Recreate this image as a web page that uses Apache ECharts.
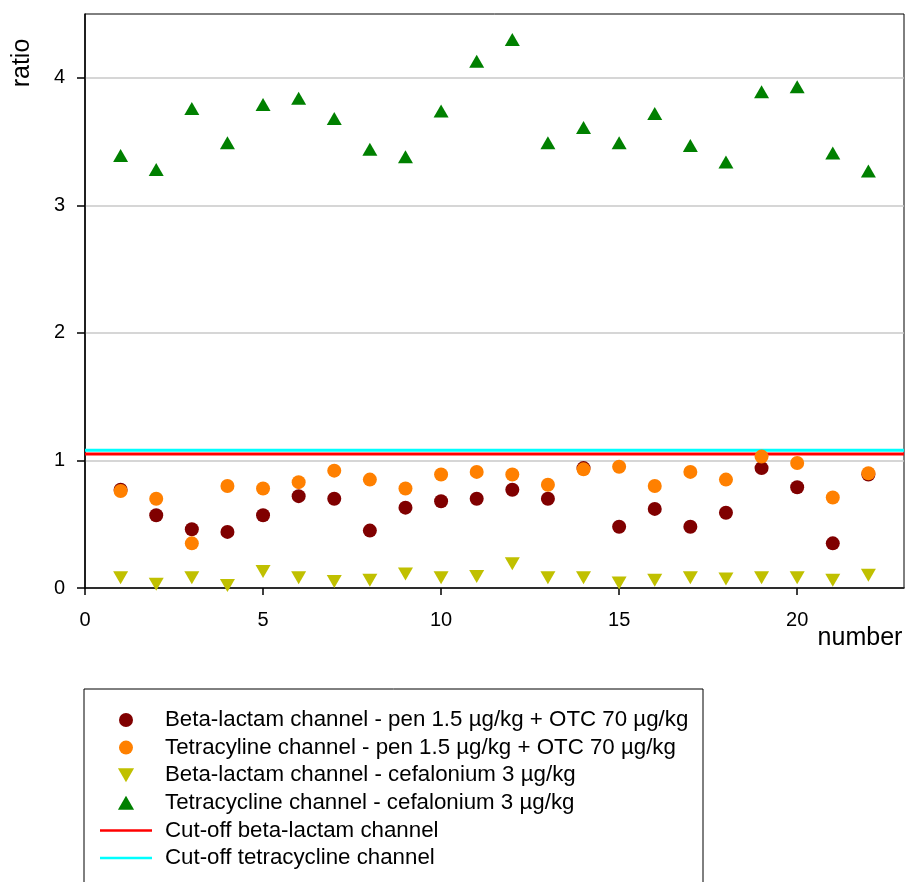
<!DOCTYPE html>
<html>
<head>
<meta charset="utf-8">
<script src="https://cdn.jsdelivr.net/npm/echarts@6/dist/echarts.min.js"></script>
<style>
  html, body { margin: 0; padding: 0; background: #fff; }
  #chart { width: 906px; height: 882px; }
</style>
</head>
<body>
<div id="chart"></div>
<script>
const numbers = [1, 2, 3, 4, 5, 6, 7, 8, 9, 10, 11, 12, 13, 14, 15, 16, 17, 18, 19, 20, 21, 22]
const betaPenOtc = [0.77, 0.57, 0.46, 0.44, 0.57, 0.72, 0.70, 0.45, 0.63, 0.68, 0.70, 0.77, 0.70, 0.94, 0.48, 0.62, 0.48, 0.59, 0.94, 0.79, 0.35, 0.89]
const tetraPenOtc = [0.76, 0.70, 0.35, 0.80, 0.78, 0.83, 0.92, 0.85, 0.78, 0.89, 0.91, 0.89, 0.81, 0.93, 0.95, 0.80, 0.91, 0.85, 1.03, 0.98, 0.71, 0.90]
const betaCefa = [0.08, 0.03, 0.08, 0.02, 0.13, 0.08, 0.05, 0.06, 0.11, 0.08, 0.09, 0.19, 0.08, 0.08, 0.04, 0.06, 0.08, 0.07, 0.08, 0.08, 0.06, 0.10]
const tetraCefa = [3.39, 3.28, 3.76, 3.49, 3.79, 3.84, 3.68, 3.44, 3.38, 3.74, 4.13, 4.30, 3.49, 3.61, 3.49, 3.72, 3.47, 3.34, 3.89, 3.93, 3.41, 3.27]
const cutoffBeta = 1.05
const cutoffTetra = 1.08
const xTicks = [0, 5, 10, 15, 20]
const yTicks = [0, 1, 2, 3, 4]
const xRange = [0, 23]
const yRange = [0, 4.5]

const names = [
    'Beta-lactam channel - pen 1.5 µg/kg + OTC 70 µg/kg',
    'Tetracyline channel - pen 1.5 µg/kg + OTC 70 µg/kg',
    'Beta-lactam channel - cefalonium 3 µg/kg',
    'Tetracycline channel - cefalonium 3 µg/kg',
    'Cut-off beta-lactam channel',
    'Cut-off tetracycline channel',
]

const pairs = (ys) => numbers.map((x, i) => [x, ys[i]])
const font = 'Arial, "Liberation Sans", sans-serif'

// legend icons, kept to their aspect inside the 52x14 legend box
const triDown = 'path://M0 0L15 0L7.5 13Z'
const triUp = 'path://M7.5 0L15 13L0 13Z'
const bar = 'path://M0 0h52v2.5h-52z'

const chart = echarts.init(document.getElementById('chart'))
chart.setOption({
    animation: false,
    backgroundColor: '#fff',
    grid: {
        left: 85,
        right: 2,
        top: 14,
        bottom: 294,
        show: true,
        borderColor: '#000',
        borderWidth: 1,
    },
    graphic: [
        {
            type: 'rect',
            shape: { x: 84, y: 689, width: 619, height: 260 },
            style: { fill: 'none', stroke: '#000', lineWidth: 1 },
            z: -1,
        },
        {
            type: 'text',
            x: 22,
            y: 63,
            rotation: Math.PI / 2,
            style: { text: 'ratio', font: '25px ' + font, fill: '#000', align: 'center', verticalAlign: 'middle' },
        },
        {
            type: 'text',
            x: 860,
            y: 638,
            style: { text: 'number', font: '25px ' + font, fill: '#000', align: 'center', verticalAlign: 'middle' },
        },
    ],
    legend: {
        orient: 'vertical',
        left: 100,
        top: 709,
        padding: 0,
        itemWidth: 52,
        itemHeight: 14,
        itemGap: 5.6,
        symbolKeepAspect: true,
        textStyle: { fontSize: 22.3, fontFamily: font, color: '#000', padding: [0, 0, 0, 8] },
        data: [
            { name: names[0], icon: 'circle' },
            { name: names[1], icon: 'circle' },
            { name: names[2], icon: triDown },
            { name: names[3], icon: triUp },
            { name: names[4], icon: bar },
            { name: names[5], icon: bar },
        ],
    },
    xAxis: {
        type: 'value',
        min: xRange[0],
        max: xRange[1],
        interval: 5,
        axisLine: { show: true, onZero: false, lineStyle: { color: '#000', width: 1.5 } },
        axisTick: { show: true, length: 7, customValues: xTicks, lineStyle: { color: '#000', width: 1.5 } },
        axisLabel: { customValues: xTicks, fontSize: 20, fontFamily: font, color: '#000', margin: 22 },
        splitLine: { show: false },
    },
    yAxis: {
        type: 'value',
        min: yRange[0],
        max: yRange[1],
        interval: 1,
        axisLine: { show: true, lineStyle: { color: '#000', width: 1.5 } },
        axisTick: { show: true, length: 8, customValues: yTicks, lineStyle: { color: '#000', width: 1.5 } },
        axisLabel: { customValues: yTicks, fontSize: 20, fontFamily: font, color: '#000', margin: 20 },
        splitLine: { show: true, lineStyle: { color: '#c8c8c8', width: 1.5 } },
    },
    series: [
        {
            name: names[0],
            type: 'scatter',
            symbol: 'circle',
            symbolSize: 14,
            itemStyle: { color: '#800000', opacity: 1 },
            data: pairs(betaPenOtc),
            z: 3,
        },
        {
            name: names[1],
            type: 'scatter',
            symbol: 'circle',
            symbolSize: 14,
            itemStyle: { color: '#ff8000', opacity: 1 },
            data: pairs(tetraPenOtc),
            z: 4,
        },
        {
            name: names[2],
            type: 'scatter',
            symbol: 'triangle',
            symbolRotate: 180,
            symbolSize: [15, 13],
            itemStyle: { color: '#c0c000', opacity: 1 },
            data: pairs(betaCefa),
            z: 5,
        },
        {
            name: names[3],
            type: 'scatter',
            symbol: 'triangle',
            symbolSize: [15, 13],
            itemStyle: { color: '#008000', opacity: 1 },
            data: pairs(tetraCefa),
            z: 5,
        },
        {
            name: names[4],
            type: 'line',
            symbol: 'none',
            lineStyle: { color: '#ff0000', width: 3 },
            itemStyle: { color: '#ff0000' },
            data: xRange.map((x) => [x, cutoffBeta]),
            z: 2,
        },
        {
            name: names[5],
            type: 'line',
            symbol: 'none',
            lineStyle: { color: '#00ffff', width: 3 },
            itemStyle: { color: '#00ffff' },
            data: xRange.map((x) => [x, cutoffTetra]),
            z: 2,
        },
    ],
})
</script>
</body>
</html>
